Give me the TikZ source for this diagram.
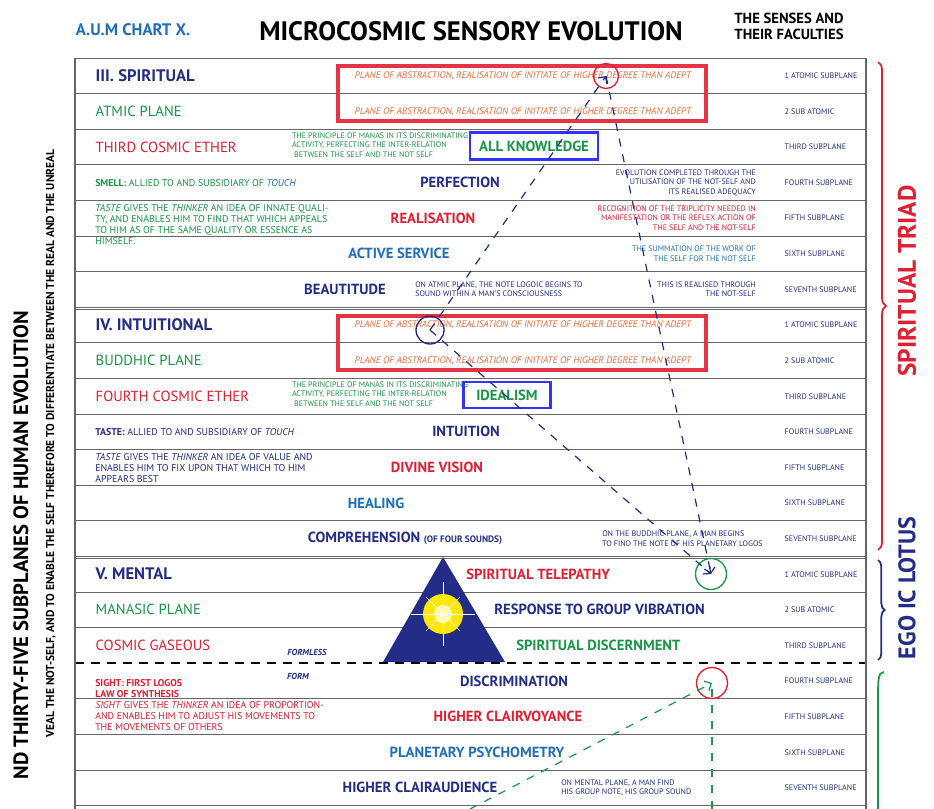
\documentclass[tikz,border=0pt]{standalone}
\usepackage{fontspec}
\setmainfont{PT Sans}
\usetikzlibrary{arrows.meta,decorations.pathreplacing}

\definecolor{dkblue}{RGB}{35,45,135}
\definecolor{myred}{RGB}{225,30,50}
\definecolor{mygreen}{RGB}{25,150,70}
\definecolor{ltblue}{RGB}{30,110,185}
\definecolor{myorange}{RGB}{240,110,60}

\tikzset{
  plane/.style={anchor=west,font=\fontsize{11}{12}\selectfont},
  title/.style={anchor=west,font=\bfseries\fontsize{12.5}{13}\selectfont,text=dkblue},
  faculty/.style={font=\bfseries\fontsize{11}{12}\selectfont},
  sub/.style={anchor=west,font=\fontsize{6}{7}\selectfont,text=dkblue},
  note/.style={font=\fontsize{6}{7}\selectfont,align=left,inner sep=0pt},
  lnote/.style={font=\fontsize{7.4}{8.2}\selectfont,align=left,inner sep=0pt},
  abstr/.style={anchor=west,font=\itshape\fontsize{7.1}{8}\selectfont,text=myorange},
  ring/.style={circle,draw,line width=1pt,minimum size=#1,inner sep=0pt},
  path/.style={dashed,line width=0.9pt,dash pattern=on 6pt off 6pt,-{Straight Barb[length=4pt]}}
}

\begin{document}
\begin{tikzpicture}[x=0.75pt,y=-0.75pt]
  \useasboundingbox (0,0) rectangle (934,809);
  \fill[white] (0,0) rectangle (934,809);

  % header
  \node[font=\bfseries\fontsize{12.5}{13}\selectfont,text=ltblue] (chart) at (133,30) {A.U.M CHART X.};
  \node[font=\bfseries\fontsize{20}{21}\selectfont] (head) at (471,31) {MICROCOSMIC SENSORY EVOLUTION};
  \node[font=\bfseries\fontsize{11}{12}\selectfont,align=center] (senses) at (789,26) {THE SENSES AND\\THEIR FACULTIES};

  % table rules
  \foreach \i in {0,...,21}
    \draw[gray!80!black,line width=0.6pt] (75,{58+35.6*\i}) -- (866,{58+35.6*\i});
  \foreach \i in {7,14}
    \draw[gray!80!black,line width=0.6pt] (75,{58+35.6*\i+2}) -- (866,{58+35.6*\i+2});
  \fill[white] (76,{58+35.6*17-1}) rectangle (865,{58+35.6*17+1});
  \draw[line width=1.6pt,dash pattern=on 7pt off 5pt] (75,{58+35.6*17}) -- (866,{58+35.6*17});
  \draw[gray!80!black,line width=0.8pt] (75,58) -- (75,809) (866,58) -- (866,809);

  % subplanes
  \foreach \j in {0,7,14}
    \foreach \s [count=\k from 0] in {1 ATOMIC SUBPLANE,2 SUB ATOMIC,THIRD SUBPLANE,FOURTH SUBPLANE,FIFTH SUBPLANE,SIXTH SUBPLANE,SEVENTH SUBPLANE}
      \node[sub] (sub\j-\k) at (780,{58+35.6*(\j+\k+.5)}) {\s};

  % red boxes
  \draw[myred!90,line width=2.6pt] (338,66) rectangle (706,121);
  \draw[myred!90,line width=2.6pt] (338,316) rectangle (706,370);
  \foreach \j in {0,1,7,8}
    \node[abstr] (abs\j) at (350,{58+35.6*(\j+.5)}) {PLANE OF ABSTRACTION, REALISATION OF INITIATE OF HIGHER DEGREE THAN ADEPT};

  % left column
  \node[title] (spirit) at (91,{58+35.6*.5}) {III. SPIRITUAL};
  \node[plane,text=mygreen] (atmic) at (91,{58+35.6*1.5}) {ATMIC PLANE};
  \node[plane,text=myred] (ether3) at (91,{58+35.6*2.5}) {THIRD COSMIC ETHER};
  \node[lnote,anchor=west] (smell) at (95,{58+35.6*3.5}) {\textcolor{mygreen}{\bfseries SMELL:} \textcolor{mygreen}{ALLIED TO AND SUBSIDIARY OF} \textcolor{ltblue}{\itshape TOUCH}};
  \node[lnote,anchor=north west,text=mygreen] (taste1) at (95,204) {\textit{TASTE} GIVES THE \textit{THINKER} AN IDEA OF INNATE QUALI-\\TY, AND ENABLES HIM TO FIND THAT WHICH APPEALS\\TO HIM AS OF THE SAME QUALITY OR ESSENCE AS\\HIMSELF.};
  \node[title] (intuit) at (91,{58+35.6*7.5}) {IV. INTUITIONAL};
  \node[plane,text=mygreen] (buddhic) at (91,{58+35.6*8.5}) {BUDDHIC PLANE};
  \node[plane,text=myred] (ether4) at (91,{58+35.6*9.5}) {FOURTH COSMIC ETHER};
  \node[lnote,anchor=west,text=dkblue] (taste2) at (95,{58+35.6*10.5}) {\textbf{TASTE:} ALLIED TO AND SUBSIDIARY OF \textit{TOUCH}};
  \node[lnote,anchor=north west,text=dkblue] (taste3) at (95,453) {\textit{TASTE} GIVES THE \textit{THINKER} AN IDEA OF VALUE AND\\ENABLES HIM TO FIX UPON THAT WHICH TO HIM\\APPEARS BEST};
  \node[title] (mental) at (91,{58+35.6*14.5}) {V. MENTAL};
  \node[plane,text=mygreen] (manasic) at (91,{58+35.6*15.5}) {MANASIC PLANE};
  \node[plane,text=myred] (gaseous) at (91,{58+35.6*16.5}) {COSMIC GASEOUS};
  \node[lnote,anchor=north west,text=myred] (sight) at (95,679) {\textbf{SIGHT: FIRST LOGOS}\\\textbf{LAW OF SYNTHESIS}\\\textit{SIGHT} GIVES THE \textit{THINKER} AN IDEA OF PROPORTION-\\AND ENABLES HIM TO ADJUST HIS MOVEMENTS TO\\THE MOVEMENTS OF OTHERS};

  % manas notes
  \foreach \n/\y in {manas3/145,manas4/394}
    \node[note,text=mygreen] (\n) at (380,\y) {THE PRINCIPLE OF MANAS IN ITS DISCRIMINATING\\ACTIVITY, PERFECTING THE INTER-RELATION\\\ BETWEEN THE SELF AND THE NOT SELF};

  % triangle
  \fill[dkblue] (443,557) -- (505,662) -- (383,662) -- cycle;
  \fill[yellow!90!orange] (443,614) circle (20);
  \fill[white!70!yellow] (443,614) circle (9);
  \foreach \a in {0,45,...,315}
    \draw[white,line width=0.5pt] (443,614) -- ++(\a:{mod(\a,90)==0 ? 32 : 24});

  % faculties
  \node[faculty,text=mygreen,draw=blue!80,line width=2pt,minimum width=128pt*0.75,minimum height=27pt*0.75] (know) at (534,146) {ALL KNOWLEDGE};
  \node[faculty,text=dkblue] (perf) at (460,{58+35.6*3.5}) {PERFECTION};
  \node[faculty,text=myred] (real) at (433,{58+35.6*4.5}) {REALISATION};
  \node[faculty,text=ltblue] (serv) at (399,{58+35.6*5.5}) {ACTIVE SERVICE};
  \node[faculty,text=dkblue] (beaut) at (345,{58+35.6*6.5}) {BEAUTITUDE};
  \node[faculty,text=mygreen,draw=blue!80,line width=2pt,minimum width=87pt*0.75,minimum height=26pt*0.75] (ideal) at (507,395) {IDEALISM};
  \node[faculty,text=dkblue] (intn) at (466,{58+35.6*10.5}) {INTUITION};
  \node[faculty,text=myred] (divine) at (437,{58+35.6*11.5}) {DIVINE VISION};
  \node[faculty,text=ltblue] (heal) at (376,{58+35.6*12.5}) {HEALING};
  \node[faculty,text=dkblue] (compr) at (405,{58+35.6*13.5}) {COMPREHENSION {\fontsize{7}{8}\selectfont(OF FOUR SOUNDS)}};
  \node[faculty,text=myred,anchor=west,inner sep=0pt] (telep) at (466,{58+35.6*14.5}) {SPIRITUAL TELEPATHY};
  \node[faculty,text=dkblue,anchor=west,inner sep=0pt] (resp) at (494,{58+35.6*15.5}) {RESPONSE TO GROUP VIBRATION};
  \node[faculty,text=mygreen,anchor=west,inner sep=0pt] (disc) at (516,{58+35.6*16.5}) {SPIRITUAL DISCERNMENT};
  \node[faculty,text=dkblue] (discr) at (514,{58+35.6*17.5}) {DISCRIMINATION};
  \node[faculty,text=myred] (clairv) at (508,{58+35.6*18.5}) {HIGHER CLAIRVOYANCE};
  \node[faculty,text=ltblue] (psych) at (477,{58+35.6*19.5}) {PLANETARY PSYCHOMETRY};
  \node[faculty,text=dkblue] (claira) at (420,{58+35.6*20.5}) {HIGHER CLAIRAUDIENCE};
  \node[font=\bfseries\itshape\fontsize{6.5}{7}\selectfont,text=dkblue] (formless) at (307,652) {FORMLESS};
  \node[font=\bfseries\itshape\fontsize{6.5}{7}\selectfont,text=dkblue] (form) at (298,676) {FORM};

  % right notes
  \node[note,anchor=east,align=right,text=dkblue] (evol) at (756,{58+35.6*3.5}) {EVOLUTION COMPLETED THROUGH THE\\UTILISATION OF THE NOT-SELF AND\\ITS REALISED ADEQUACY};
  \node[note,anchor=east,align=right,text=myred] (recog) at (756,{58+35.6*4.5}) {RECOGNITION OF THE TRIPLICITY NEEDED IN\\MANIFESTATION OR THE REFLEX ACTION OF\\THE SELF AND THE NOT-SELF};
  \node[note,anchor=east,align=right,text=ltblue] (summ) at (756,{58+35.6*5.5}) {THE SUMMATION OF THE WORK OF\\THE SELF FOR THE NOT SELF};
  \node[note,anchor=east,align=right,text=dkblue] (thru) at (756,{58+35.6*6.5}) {THIS IS REALISED THROUGH\\THE NOT-SELF};
  \node[note,anchor=west,text=dkblue] (atmicnote) at (415,{58+35.6*6.5}) {ON ATMIC PLANE, THE NOTE LOGOIC BEGINS TO\\SOUND WITHIN A MAN'S CONSCIOUSNESS};
  \node[note,anchor=west,text=dkblue] (budnote) at (602,{58+35.6*13.5}) {ON THE BUDDHIC PLANE, A MAN BEGINS\\TO FIND THE NOTE OF HIS PLANETARY LOGOS};
  \node[note,anchor=west,text=dkblue] (mentnote) at (561,{58+35.6*20.5}) {ON MENTAL PLANE, A MAN FIND\\HIS GROUP NOTE, HIS GROUP SOUND};

  % rings and paths
  \node[ring=25pt*0.75,draw=myred] (ringA) at (606,76) {};
  \node[ring=28pt*0.75,draw=dkblue] (ringB) at (430,330) {};
  \node[ring=31pt*0.75,draw=mygreen] (ringC) at (711,574) {};
  \node[ring=31pt*0.75,draw=myred] (ringD) at (712,683) {};
  \coordinate (lowA) at (470,809);
  \coordinate (lowB) at (712,809);
  \draw[path,draw=dkblue] (ringB.center) -- (ringA.center);
  \draw[path,draw=dkblue] (ringA.center) -- (ringC.center);
  \draw[path,draw=dkblue] (ringB.center) -- (ringC.center);
  \draw[path,draw=mygreen] (lowA) -- (ringD.center);
  \draw[path,draw=mygreen,-] (lowB) -- (ringD.center);

  % braces
  \draw[myred,line width=1.3pt,decorate,decoration={brace,amplitude=6pt}] (878,62) -- (878,550);
  \node[rotate=90,font=\bfseries\fontsize{19}{20}\selectfont,text=myred] (triad) at (907,281) {SPIRITUAL TRIAD};
  \draw[dkblue,line width=1.3pt,decorate,decoration={brace,amplitude=5pt}] (878,560) -- (878,660);
  \node[rotate=90,font=\bfseries\fontsize{18}{19}\selectfont,text=dkblue] (lotus) at (907,588) {EGO IC LOTUS};
  \draw[mygreen,line width=1.3pt] (884,672) .. controls (878,672) and (878,680) .. (878,700) -- (878,809);

  % side titles
  \node[rotate=90,anchor=east,font=\bfseries\fontsize{15.5}{16}\selectfont] (side1) at (21,306) {ND THIRTY-FIVE SUBPLANES OF HUMAN EVOLUTION};
  \node[rotate=90,anchor=east,font=\bfseries\fontsize{8.6}{9}\selectfont] (side2) at (51,145) {VEAL THE NOT-SELF, AND TO ENABLE THE SELF THEREFORE TO DIFFERENTIATE BETWEEN THE REAL AND THE UNREAL};
\end{tikzpicture}
\end{document}
